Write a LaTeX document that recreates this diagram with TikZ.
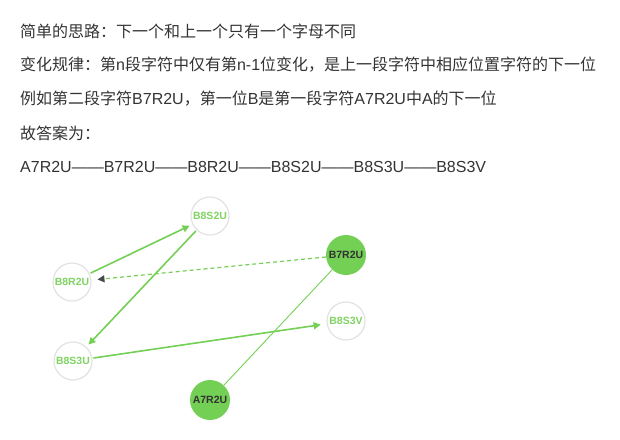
\documentclass[tikz,border=0pt]{standalone}
\usepackage{fontspec}
\setmainfont{Liberation Sans}
\newfontfamily\cjk{Noto Sans CJK SC}
\usetikzlibrary{arrows.meta}
\definecolor{txt}{HTML}{333333}
\definecolor{gr}{HTML}{74CF55}
\definecolor{grl}{HTML}{80D462}
\definecolor{ring}{HTML}{E2E2E2}
\definecolor{tip}{HTML}{4A4A4A}
\newcommand{\zh}[1]{{\cjk #1}}
\tikzset{
  line/.style={anchor=west,text=txt,font=\fontsize{16}{18}\selectfont,inner sep=0pt},
  opennode/.style={circle,draw=ring,line width=1.2pt,fill=white,minimum size=38pt,inner sep=0pt,
    font=\fontsize{10.5}{12}\bfseries\selectfont,text=grl},
  fillnode/.style={circle,fill=gr,draw=none,minimum size=40pt,inner sep=0pt,
    font=\fontsize{10.5}{12}\bfseries\selectfont,text=txt},
  edge/.style={draw=gr,line width=1.6pt,-{Triangle[length=7pt,width=7pt]},shorten >=3pt,shorten <=1pt},
}
\begin{document}
\begin{tikzpicture}[x=1pt,y=-1pt]
\useasboundingbox (0,0) rectangle (620,439);
\node[line] (t1) at (20,31) {\zh{简单的思路：下一个和上一个只有一个字母不同}};
\node[line] (t2) at (20,65) {\zh{变化规律：第}n\zh{段字符中仅有第}n-1\zh{位变化，是上一段字符中相应位置字符的下一位}};
\node[line] (t3) at (20,99) {\zh{例如第二段字符}B7R2U\zh{，第一位}B\zh{是第一段字符}A7R2U\zh{中}A\zh{的下一位}};
\node[line] (t4) at (20,133) {\zh{故答案为：}};
\node[line] (t5) at (20,167) {A7R2U——B7R2U——B8R2U——B8S2U——B8S3U——B8S3V};

\node[opennode] (b8s2u) at (210,216) {B8S2U};
\node[opennode] (b8r2u) at (72,282) {B8R2U};
\node[opennode] (b8s3u) at (73,361) {B8S3U};
\node[opennode] (b8s3v) at (346,321) {B8S3V};
\node[fillnode] (b7r2u) at (346,255) {B7R2U};
\node[fillnode] (a7r2u) at (210,400) {A7R2U};

\draw[gr,line width=0.9pt] (a7r2u) -- (b7r2u);
\draw[gr,line width=1.2pt,dash pattern=on 4pt off 3pt,-{Triangle[length=7pt,width=7pt,color=tip]},shorten >=6pt] (b7r2u) -- (b8r2u);
\draw[edge] (b8r2u) -- (b8s2u);
\draw[edge] (b8s2u) -- (b8s3u);
\draw[edge,shorten >=6pt] (b8s3u) -- (b8s3v);
\end{tikzpicture}
\end{document}
